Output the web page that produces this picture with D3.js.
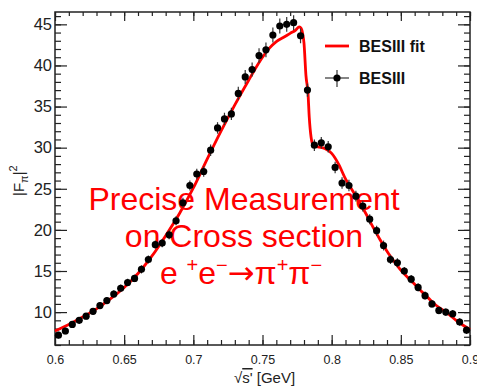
<!DOCTYPE html>
<html>
<head>
<meta charset="utf-8">
<script src="https://cdn.jsdelivr.net/npm/d3@7"></script>
<style>
  body { margin: 0; background: #fff; }
  svg { display: block; font-family: "Liberation Sans", Arial, sans-serif; }
</style>
</head>
<body>
<svg id="chart" width="477" height="388"></svg>
<script>
// data points (sqrt(s') in GeV, |F_pi|^2 and its error)
const energies = [0.6025, 0.6075, 0.6125, 0.6175, 0.6225, 0.6275, 0.6325, 0.6375, 0.6425, 0.6475,
  0.6525, 0.6575, 0.6625, 0.6675, 0.6725, 0.6775, 0.6825, 0.6875, 0.6925, 0.6975,
  0.7025, 0.7075, 0.7125, 0.7175, 0.7225, 0.7275, 0.7325, 0.7375, 0.7425, 0.7475,
  0.7525, 0.7575, 0.7625, 0.7675, 0.7725, 0.7775, 0.7825, 0.7875, 0.7925, 0.7975,
  0.8025, 0.8075, 0.8125, 0.8175, 0.8225, 0.8275, 0.8325, 0.8375, 0.8425, 0.8475,
  0.8525, 0.8575, 0.8625, 0.8675, 0.8725, 0.8775, 0.8825, 0.8875, 0.8925, 0.8975];
const formFactor = [7.2, 7.7, 8.5, 9.0, 9.5, 10.1, 10.8, 11.4, 12.2, 12.9,
  13.6, 14.1, 15.2, 16.4, 18.2, 18.4, 19.4, 21.1, 23.3, 25.4,
  26.8, 27.1, 29.7, 32.4, 33.5, 34.1, 36.6, 38.6, 39.5, 41.2,
  41.9, 43.7, 44.8, 45.0, 45.2, 43.6, 37.0, 30.3, 30.6, 30.1,
  27.6, 25.7, 25.4, 24.1, 22.9, 21.3, 19.9, 18.1, 16.4, 16.0,
  15.0, 14.0, 13.0, 12.0, 11.0, 10.2, 10.0, 9.8, 8.8, 7.8];
const formFactorErr = [0.4, 0.4, 0.4, 0.4, 0.4, 0.4, 0.4, 0.4, 0.45, 0.45,
  0.45, 0.45, 0.5, 0.5, 0.5, 0.5, 0.55, 0.55, 0.6, 0.6,
  0.65, 0.65, 0.7, 0.7, 0.75, 0.75, 0.8, 0.85, 0.85, 0.9,
  0.9, 0.9, 0.9, 0.9, 0.9, 0.9, 0.8, 0.7, 0.7, 0.7,
  0.7, 0.7, 0.7, 0.65, 0.65, 0.6, 0.6, 0.6, 0.55, 0.55,
  0.5, 0.5, 0.5, 0.5, 0.45, 0.45, 0.45, 0.45, 0.45, 0.45];

// fit curve
const fitEnergies = [0.600, 0.610, 0.620, 0.630, 0.640, 0.650, 0.660, 0.670, 0.680, 0.690,
  0.700, 0.710, 0.720, 0.730, 0.740, 0.750, 0.755, 0.760, 0.765, 0.770,
  0.774, 0.7766, 0.778, 0.779, 0.780, 0.7814, 0.7829, 0.7838, 0.7851, 0.7867,
  0.790, 0.795, 0.800, 0.805, 0.810, 0.815, 0.820, 0.825, 0.830, 0.835,
  0.840, 0.845, 0.850, 0.855, 0.860, 0.865, 0.870, 0.875, 0.880, 0.885,
  0.890, 0.895, 0.900];
const fitValues = [7.7, 8.5, 9.4, 10.4, 11.6, 13.0, 14.7, 16.8, 19.3, 22.0,
  25.1, 28.6, 32.0, 35.2, 38.2, 41.0, 42.1, 42.9, 43.4, 43.9,
  44.3, 44.7, 44.5, 43.9, 42.7, 38.8, 36.6, 33.7, 31.3, 30.3,
  30.1, 29.9, 29.3, 28.0, 26.2, 24.8, 23.4, 21.9, 20.3, 18.8,
  17.4, 16.2, 15.1, 14.2, 13.4, 12.5, 11.7, 10.9, 10.3, 9.7,
  9.0, 8.4, 7.9];

const xTicks = [0.6, 0.65, 0.7, 0.75, 0.8, 0.85, 0.9];
const xTickLabels = ['0.6', '0.65', '0.7', '0.75', '0.8', '0.85', '0.9'];
const yTicks = [10, 15, 20, 25, 30, 35, 40, 45];
const legendLabels = ['BESIII fit', 'BESIII'];
const noteLines = ['Precise Measurement', 'on Cross section'];

const frame = { left: 55, right: 470, top: 12, bottom: 345 };
const svg = d3.select('#chart');

const x = d3.scaleLinear().domain([0.6, 0.9]).range([frame.left, frame.right]);
const y = d3.scaleLinear().domain([6, 46.5]).range([frame.bottom, frame.top]);

const xMinor = d3.range(0.6, 0.9001, 0.01).map(v => +v.toFixed(3));
const yMinor = d3.range(6, 47, 1);

function styleAxis(g) {
  g.select('.domain').remove();
  g.selectAll('line').attr('stroke', '#222').attr('stroke-width', 1.2);
  g.selectAll('text').attr('fill', '#222').style('font-family', '"Liberation Sans", Arial, sans-serif');
}

// minor ticks
svg.append('g').attr('transform', `translate(0,${frame.bottom})`)
  .call(d3.axisBottom(x).tickValues(xMinor).tickSize(-5).tickFormat('')).call(styleAxis);
svg.append('g').attr('transform', `translate(0,${frame.top})`)
  .call(d3.axisTop(x).tickValues(xMinor).tickSize(-4).tickFormat('')).call(styleAxis);
svg.append('g').attr('transform', `translate(${frame.left},0)`)
  .call(d3.axisLeft(y).tickValues(yMinor).tickSize(-6).tickFormat('')).call(styleAxis);
svg.append('g').attr('transform', `translate(${frame.right},0)`)
  .call(d3.axisRight(y).tickValues(yMinor).tickSize(-6).tickFormat('')).call(styleAxis);

// major ticks
svg.append('g').attr('transform', `translate(0,${frame.bottom})`)
  .call(d3.axisBottom(x).tickValues(xTicks).tickSize(-10).tickPadding(10)
    .tickFormat((d, i) => xTickLabels[i]))
  .call(styleAxis)
  .selectAll('text').style('font-size', '12.5px');
svg.append('g').attr('transform', `translate(0,${frame.top})`)
  .call(d3.axisTop(x).tickValues(xTicks).tickSize(-9).tickFormat('')).call(styleAxis);
svg.append('g').attr('transform', `translate(${frame.left},0)`)
  .call(d3.axisLeft(y).tickValues(yTicks).tickSize(-12).tickPadding(3))
  .call(styleAxis)
  .selectAll('text').style('font-size', '16.5px');
svg.append('g').attr('transform', `translate(${frame.right},0)`)
  .call(d3.axisRight(y).tickValues(yTicks).tickSize(-12).tickFormat('')).call(styleAxis);

// frame
svg.append('rect')
  .attr('x', frame.left).attr('y', frame.top)
  .attr('width', frame.right - frame.left).attr('height', frame.bottom - frame.top)
  .attr('fill', 'none').attr('stroke', '#222').attr('stroke-width', 1.5);

// red note text
const note = svg.append('g').attr('fill', '#ff0000')
  .style('font-size', '32px').attr('text-anchor', 'middle');
note.selectAll('text.line').data(noteLines).enter().append('text')
  .attr('class', 'line')
  .attr('x', 244)
  .attr('y', (d, i) => 210 + i * 37)
  .text(d => d);
const reaction = note.append('text').attr('x', 241).attr('y', 284);
reaction.append('tspan').text('e ');
reaction.append('tspan').attr('dy', -12).style('font-size', '20px').text('+');
reaction.append('tspan').attr('dy', 12).text('e');
reaction.append('tspan').attr('dy', -12).style('font-size', '20px').text('\u2212');
reaction.append('tspan').attr('dy', 12).style('font-family', '"DejaVu Sans", sans-serif').text('\u2192');
reaction.append('tspan').text('\u03c0');
reaction.append('tspan').attr('dy', -12).style('font-size', '20px').text('+');
reaction.append('tspan').attr('dy', 12).text('\u03c0');
reaction.append('tspan').attr('dy', -12).style('font-size', '20px').text('\u2212');

// fit line
const fitData = fitEnergies.map((e, i) => ({ e: e, v: fitValues[i] }));
svg.append('path')
  .datum(fitData)
  .attr('fill', 'none')
  .attr('stroke', '#ff0000')
  .attr('stroke-width', 2.8)
  .attr('d', d3.line().x(d => x(d.e)).y(d => y(d.v)).curve(d3.curveMonotoneX));

// data points with error bars
const points = energies.map((e, i) => ({ e: e, v: formFactor[i], err: formFactorErr[i] }));
svg.selectAll('line.err').data(points).enter().append('line')
  .attr('class', 'err')
  .attr('x1', d => x(d.e)).attr('x2', d => x(d.e))
  .attr('y1', d => y(d.v - d.err)).attr('y2', d => y(d.v + d.err))
  .attr('stroke', '#333').attr('stroke-width', 1.2);
svg.selectAll('circle.pt').data(points).enter().append('circle')
  .attr('class', 'pt')
  .attr('cx', d => x(d.e)).attr('cy', d => y(d.v))
  .attr('r', 3.6)
  .attr('fill', '#000');

// legend
const legend = svg.append('g');
legend.append('line')
  .attr('x1', 325).attr('x2', 349).attr('y1', 46).attr('y2', 46)
  .attr('stroke', '#ff0000').attr('stroke-width', 2.8);
legend.append('line')
  .attr('x1', 325).attr('x2', 349).attr('y1', 78).attr('y2', 78)
  .attr('stroke', '#333').attr('stroke-width', 1.2);
legend.append('line')
  .attr('x1', 337).attr('x2', 337).attr('y1', 70).attr('y2', 87)
  .attr('stroke', '#333').attr('stroke-width', 1.2);
legend.append('circle').attr('cx', 337).attr('cy', 78).attr('r', 3.6).attr('fill', '#000');
legend.selectAll('text').data(legendLabels).enter().append('text')
  .attr('x', 359)
  .attr('y', (d, i) => 52 + i * 32)
  .style('font-size', '16px').style('font-weight', 'bold')
  .attr('fill', '#111')
  .text(d => d);

// axis titles
const xTitle = svg.append('text')
  .attr('x', 234).attr('y', 383)
  .style('font-size', '15px').attr('fill', '#222');
xTitle.append('tspan').text('\u221a');
xTitle.append('tspan').style('text-decoration', 'overline').text("s'");
xTitle.append('tspan').text(' [GeV]');

const yTitle = svg.append('text')
  .attr('transform', 'translate(24,196) rotate(-90)')
  .style('font-size', '15px').attr('fill', '#222');
yTitle.append('tspan').text('|F');
yTitle.append('tspan').attr('dy', 4).style('font-size', '11px').text('\u03c0');
yTitle.append('tspan').attr('dy', -4).text('|');
yTitle.append('tspan').attr('dy', -7).style('font-size', '11px').text('2');
</script>
</body>
</html>
